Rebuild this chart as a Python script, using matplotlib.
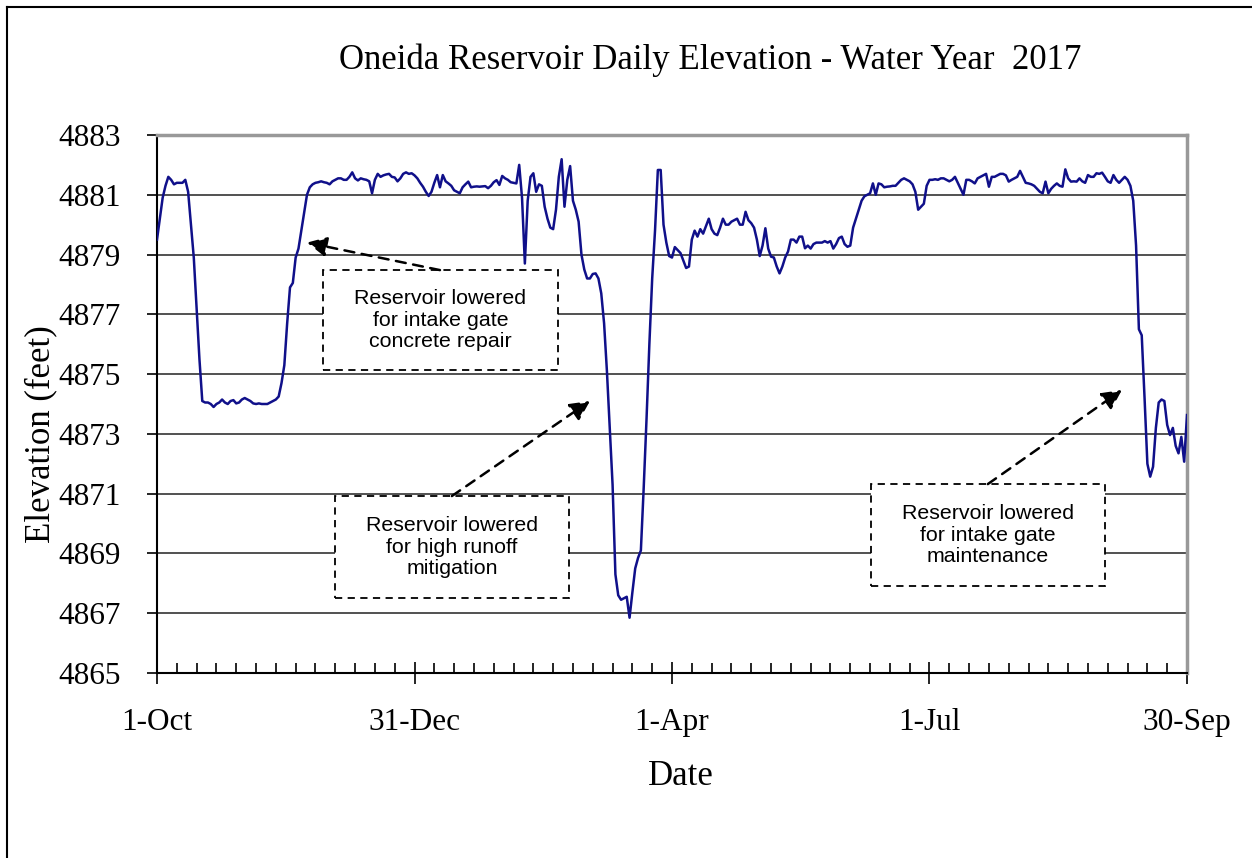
import numpy as np
import matplotlib
matplotlib.use('Agg')
import matplotlib.pyplot as plt
from matplotlib.lines import Line2D
from matplotlib.patches import Rectangle
from matplotlib.ticker import MultipleLocator

# Daily reservoir elevation (feet), water year 2017, day 0 = 1-Oct
elev = [
    4879.5, 4880.2, 4880.9, 4881.3, 4881.6, 4881.5, 4881.35, 4881.4, 4881.4, 4881.4,
    4881.5, 4881.1, 4880.0, 4878.9, 4877.2, 4875.5, 4874.1, 4874.05, 4874.05, 4874.0,
    4873.9, 4874.0, 4874.05, 4874.15, 4874.05, 4874.0, 4874.1, 4874.13, 4874.02, 4874.05,
    4874.15, 4874.2, 4874.15, 4874.1, 4874.02, 4874.0, 4874.02, 4874.0, 4874.0, 4874.0,
    4874.05, 4874.1, 4874.15, 4874.25, 4874.7, 4875.3, 4876.7, 4877.9, 4878.05, 4878.9,
    4879.2, 4879.8, 4880.4, 4881.0, 4881.25, 4881.35, 4881.4, 4881.42, 4881.45, 4881.42,
    4881.4, 4881.35, 4881.45, 4881.5, 4881.55, 4881.55, 4881.5, 4881.5, 4881.6, 4881.75,
    4881.55, 4881.48, 4881.55, 4881.52, 4881.5, 4881.45, 4881.05, 4881.5, 4881.7, 4881.6,
    4881.65, 4881.68, 4881.7, 4881.6, 4881.58, 4881.45, 4881.55, 4881.7, 4881.75, 4881.7,
    4881.72, 4881.65, 4881.55, 4881.4, 4881.27, 4881.1, 4880.96, 4881.1, 4881.4, 4881.66,
    4881.25, 4881.66, 4881.45, 4881.38, 4881.3, 4881.15, 4881.1, 4881.05, 4881.25, 4881.35,
    4881.44, 4881.25, 4881.27, 4881.28, 4881.27, 4881.28, 4881.29, 4881.22, 4881.3, 4881.42,
    4881.49, 4881.33, 4881.63, 4881.55, 4881.5, 4881.42, 4881.4, 4881.38, 4882.0, 4880.9,
    4878.7, 4880.8, 4881.6, 4881.72, 4881.1, 4881.35, 4881.3, 4880.6, 4880.2, 4879.9,
    4879.85, 4880.5, 4881.6, 4882.19, 4880.6, 4881.5, 4881.96, 4880.8, 4880.5, 4880.1,
    4879.0, 4878.5, 4878.2, 4878.2, 4878.35, 4878.37, 4878.2, 4877.7, 4876.7, 4875.1,
    4873.2, 4871.3, 4868.3, 4867.6, 4867.45, 4867.5, 4867.55, 4866.85, 4867.7, 4868.5,
    4868.85, 4869.1, 4871.2, 4873.5, 4876.0, 4878.2, 4879.8, 4881.83, 4881.83, 4880.0,
    4879.4, 4878.95, 4878.9, 4879.25, 4879.15, 4879.05, 4878.8, 4878.55, 4878.6, 4879.5,
    4879.8, 4879.6, 4879.85, 4879.7, 4879.95, 4880.2, 4879.85, 4879.7, 4879.65, 4879.9,
    4880.2, 4880.0, 4880.0, 4880.1, 4880.15, 4880.2, 4880.0, 4880.0, 4880.43, 4880.15,
    4880.05, 4879.9, 4879.5, 4878.95, 4879.3, 4879.88, 4879.2, 4878.93, 4878.9, 4878.6,
    4878.37, 4878.6, 4878.9, 4879.1, 4879.5, 4879.5, 4879.4, 4879.6, 4879.6, 4879.21,
    4879.3, 4879.2, 4879.35, 4879.4, 4879.4, 4879.4, 4879.45, 4879.4, 4879.45, 4879.2,
    4879.35, 4879.55, 4879.6, 4879.35, 4879.26, 4879.3, 4879.9, 4880.2, 4880.5, 4880.8,
    4880.95, 4881.0, 4881.05, 4881.38, 4881.0, 4881.38, 4881.35, 4881.25, 4881.27, 4881.28,
    4881.3, 4881.3, 4881.4, 4881.5, 4881.55, 4881.5, 4881.45, 4881.35, 4881.1, 4880.5,
    4880.6, 4880.7, 4881.3, 4881.5, 4881.5, 4881.52, 4881.5, 4881.55, 4881.55, 4881.5,
    4881.45, 4881.5, 4881.6, 4881.4, 4881.2, 4881.0, 4881.5, 4881.5, 4881.45, 4881.38,
    4881.55, 4881.6, 4881.65, 4881.7, 4881.27, 4881.6, 4881.6, 4881.65, 4881.7, 4881.7,
    4881.65, 4881.44, 4881.5, 4881.55, 4881.6, 4881.8, 4881.6, 4881.4, 4881.38, 4881.35,
    4881.3, 4881.2, 4881.1, 4881.05, 4881.44, 4881.05, 4881.2, 4881.3, 4881.38, 4881.3,
    4881.27, 4881.85, 4881.55, 4881.44, 4881.45, 4881.44, 4881.55, 4881.45, 4881.4, 4881.66,
    4881.6, 4881.6, 4881.72, 4881.7, 4881.74, 4881.6, 4881.45, 4881.4, 4881.66, 4881.5,
    4881.4, 4881.5, 4881.6, 4881.5, 4881.3, 4880.8, 4879.3, 4876.5, 4876.3, 4874.2,
    4872.0, 4871.57, 4871.9, 4873.2, 4874.05, 4874.15, 4874.1, 4873.3, 4872.96, 4873.2,
    4872.6, 4872.35, 4872.9, 4872.07, 4873.63,
]
days = np.arange(len(elev))

tick_days = [0, 91, 182, 273, 364]
tick_labels = ['1-Oct', '31-Dec', '1-Apr', '1-Jul', '30-Sep']
y_ticks = np.arange(4865, 4884, 2)

notes = ['Reservoir lowered\nfor intake gate\nconcrete repair',
         'Reservoir lowered\nfor high runoff\nmitigation',
         'Reservoir lowered\nfor intake gate\nmaintenance']

serif = 'Liberation Serif'
sans = 'Liberation Sans'

fig = plt.figure(figsize=(12.52, 8.58), dpi=100)
ax = fig.add_axes([157/1252, 1 - 673/858, 1030/1252, 538/858])

ax.plot(days, elev, color='#10108a', lw=1.8, zorder=4)

ax.set_xlim(0, 364)
ax.set_ylim(4865, 4883)
ax.set_xticks(tick_days)
ax.set_xticklabels(tick_labels, fontfamily=serif, fontsize=22.5)
ax.xaxis.set_minor_locator(MultipleLocator(7))
ax.set_yticks(y_ticks)
ax.set_yticklabels([str(v) for v in y_ticks], fontfamily=serif, fontsize=22.5)
ax.tick_params(axis='x', which='major', direction='inout', length=16, width=1.2, pad=17)
ax.tick_params(axis='x', which='minor', direction='in', length=7, width=1.2)
ax.tick_params(axis='y', which='major', direction='out', length=7, width=1.2, pad=19)
ax.yaxis.grid(True, color='#333333', lw=1.2, zorder=1)
ax.set_axisbelow(True)

for s in ['left', 'bottom']:
    ax.spines[s].set_linewidth(1.5)
    ax.spines[s].set_color('black')
for s in ['top', 'right']:
    ax.spines[s].set_linewidth(2.5)
    ax.spines[s].set_color('#999999')

ax.set_xlabel('Date', fontfamily=serif, fontsize=25)
ax.xaxis.set_label_coords(0.509, -0.162)
ax.set_ylabel('Elevation (feet)', fontfamily=serif, fontsize=25)
ax.yaxis.set_label_coords(-0.097, 0.444)
fig.text(710/1252, 1 - 60/858, 'Oneida Reservoir Daily Elevation - Water Year  2017',
         fontfamily=serif, fontsize=25, ha='center', va='center')

# annotation boxes: (x0, x1, y0, y1) in data units, arrow tail, arrow head
boxes = [((58.7, 141.7, 4875.14, 4878.48), (100, 4878.48), (53, 4879.4)),
         ((62.9, 145.6, 4867.51, 4870.92), (104.2, 4870.92), (153, 4874.1)),
         ((252.3, 335.0, 4867.91, 4871.32), (293.6, 4871.32), (341, 4874.47))]
for (x0, x1, y0, y1), tail, head in boxes:
    ax.add_patch(Rectangle((x0, y0), x1 - x0, y1 - y0, facecolor='white',
                           edgecolor='black', lw=1.3, ls=(0, (4, 3)), zorder=3))
for note, ((x0, x1, y0, y1), tail, head) in zip(notes, boxes):
    ax.text((x0 + x1) / 2, (y0 + y1) / 2, note, fontfamily=sans, fontsize=15.4,
            ha='center', va='center', linespacing=1.17, zorder=5)
    ax.annotate('', xy=head, xytext=tail,
                arrowprops=dict(arrowstyle='-|>', color='black', lw=1.8,
                                linestyle=(0, (4, 3)), mutation_scale=30,
                                shrinkA=0, shrinkB=0), zorder=5)

# outer frame (left and top edges visible)
fig.add_artist(Line2D([7/1252, 7/1252], [0, 1 - 7/858], color='black', lw=1.5,
                      transform=fig.transFigure))
fig.add_artist(Line2D([7/1252, 1], [1 - 7/858, 1 - 7/858], color='black', lw=1.5,
                      transform=fig.transFigure))

fig.savefig('out.png', dpi=100)
